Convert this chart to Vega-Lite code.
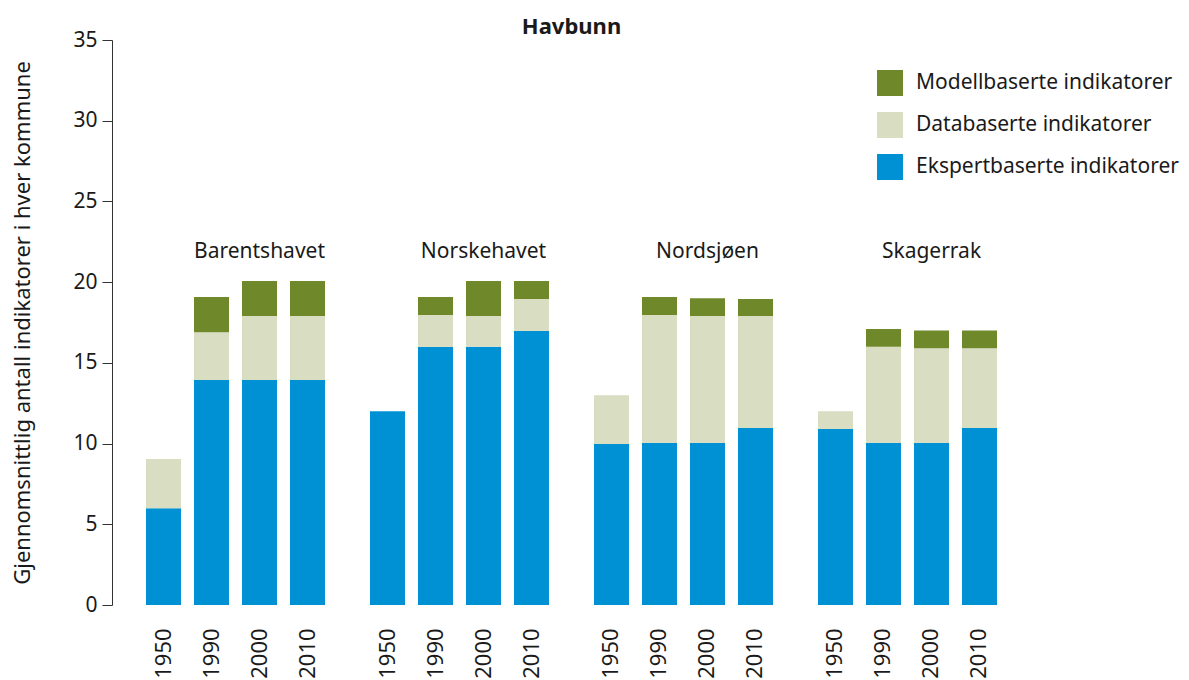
{
  "$schema": "https://vega.github.io/schema/vega-lite/v6.json",
  "autosize": {"type": "none"},
  "padding": {"left": 112, "top": 40, "right": 158, "bottom": 75},
  "width": 919,
  "height": 565,
  "background": "white",
  "config": {
    "font": "Noto Sans",
    "view": {"stroke": null},
    "text": {"font": "Noto Sans", "color": "#1a1a1a"}
  },
  "title": {
    "text": "Havbunn",
    "fontSize": 22,
    "fontWeight": "bold",
    "color": "#1a1a1a",
    "anchor": "middle",
    "offset": -10
  },
  "datasets": {
    "types": [
      {"type": "Ekspertbaserte indikatorer", "rank": 1},
      {"type": "Databaserte indikatorer", "rank": 2},
      {"type": "Modellbaserte indikatorer", "rank": 3}
    ],
    "bars": [
      {"region": "Barentshavet", "year": "1950", "type": "Ekspertbaserte indikatorer", "value": 6.0},
      {"region": "Barentshavet", "year": "1950", "type": "Databaserte indikatorer", "value": 3.05},
      {"region": "Barentshavet", "year": "1990", "type": "Ekspertbaserte indikatorer", "value": 13.94},
      {"region": "Barentshavet", "year": "1990", "type": "Databaserte indikatorer", "value": 2.96},
      {"region": "Barentshavet", "year": "1990", "type": "Modellbaserte indikatorer", "value": 2.18},
      {"region": "Barentshavet", "year": "2000", "type": "Ekspertbaserte indikatorer", "value": 13.94},
      {"region": "Barentshavet", "year": "2000", "type": "Databaserte indikatorer", "value": 3.96},
      {"region": "Barentshavet", "year": "2000", "type": "Modellbaserte indikatorer", "value": 2.17},
      {"region": "Barentshavet", "year": "2010", "type": "Ekspertbaserte indikatorer", "value": 13.94},
      {"region": "Barentshavet", "year": "2010", "type": "Databaserte indikatorer", "value": 3.96},
      {"region": "Barentshavet", "year": "2010", "type": "Modellbaserte indikatorer", "value": 2.17},
      {"region": "Norskehavet", "year": "1950", "type": "Ekspertbaserte indikatorer", "value": 12.0},
      {"region": "Norskehavet", "year": "1990", "type": "Ekspertbaserte indikatorer", "value": 15.98},
      {"region": "Norskehavet", "year": "1990", "type": "Databaserte indikatorer", "value": 1.99},
      {"region": "Norskehavet", "year": "1990", "type": "Modellbaserte indikatorer", "value": 1.11},
      {"region": "Norskehavet", "year": "2000", "type": "Ekspertbaserte indikatorer", "value": 16.0},
      {"region": "Norskehavet", "year": "2000", "type": "Databaserte indikatorer", "value": 1.9},
      {"region": "Norskehavet", "year": "2000", "type": "Modellbaserte indikatorer", "value": 2.17},
      {"region": "Norskehavet", "year": "2010", "type": "Ekspertbaserte indikatorer", "value": 16.98},
      {"region": "Norskehavet", "year": "2010", "type": "Databaserte indikatorer", "value": 1.98},
      {"region": "Norskehavet", "year": "2010", "type": "Modellbaserte indikatorer", "value": 1.11},
      {"region": "Nordsjøen", "year": "1950", "type": "Ekspertbaserte indikatorer", "value": 9.97},
      {"region": "Nordsjøen", "year": "1950", "type": "Databaserte indikatorer", "value": 3.03},
      {"region": "Nordsjøen", "year": "1990", "type": "Ekspertbaserte indikatorer", "value": 10.04},
      {"region": "Nordsjøen", "year": "1990", "type": "Databaserte indikatorer", "value": 7.93},
      {"region": "Nordsjøen", "year": "1990", "type": "Modellbaserte indikatorer", "value": 1.11},
      {"region": "Nordsjøen", "year": "2000", "type": "Ekspertbaserte indikatorer", "value": 10.04},
      {"region": "Nordsjøen", "year": "2000", "type": "Databaserte indikatorer", "value": 7.86},
      {"region": "Nordsjøen", "year": "2000", "type": "Modellbaserte indikatorer", "value": 1.1},
      {"region": "Nordsjøen", "year": "2010", "type": "Ekspertbaserte indikatorer", "value": 10.97},
      {"region": "Nordsjøen", "year": "2010", "type": "Databaserte indikatorer", "value": 6.93},
      {"region": "Nordsjøen", "year": "2010", "type": "Modellbaserte indikatorer", "value": 1.06},
      {"region": "Skagerrak", "year": "1950", "type": "Ekspertbaserte indikatorer", "value": 10.9},
      {"region": "Skagerrak", "year": "1950", "type": "Databaserte indikatorer", "value": 1.1},
      {"region": "Skagerrak", "year": "1990", "type": "Ekspertbaserte indikatorer", "value": 10.04},
      {"region": "Skagerrak", "year": "1990", "type": "Databaserte indikatorer", "value": 5.96},
      {"region": "Skagerrak", "year": "1990", "type": "Modellbaserte indikatorer", "value": 1.1},
      {"region": "Skagerrak", "year": "2000", "type": "Ekspertbaserte indikatorer", "value": 10.04},
      {"region": "Skagerrak", "year": "2000", "type": "Databaserte indikatorer", "value": 5.86},
      {"region": "Skagerrak", "year": "2000", "type": "Modellbaserte indikatorer", "value": 1.1},
      {"region": "Skagerrak", "year": "2010", "type": "Ekspertbaserte indikatorer", "value": 10.97},
      {"region": "Skagerrak", "year": "2010", "type": "Databaserte indikatorer", "value": 4.93},
      {"region": "Skagerrak", "year": "2010", "type": "Modellbaserte indikatorer", "value": 1.1}
    ],
    "years": [
      {"region": "Barentshavet", "year": "1950"}, {"region": "Barentshavet", "year": "1990"}, {"region": "Barentshavet", "year": "2000"}, {"region": "Barentshavet", "year": "2010"},
      {"region": "Norskehavet", "year": "1950"}, {"region": "Norskehavet", "year": "1990"}, {"region": "Norskehavet", "year": "2000"}, {"region": "Norskehavet", "year": "2010"},
      {"region": "Nordsjøen", "year": "1950"}, {"region": "Nordsjøen", "year": "1990"}, {"region": "Nordsjøen", "year": "2000"}, {"region": "Nordsjøen", "year": "2010"},
      {"region": "Skagerrak", "year": "1950"}, {"region": "Skagerrak", "year": "1990"}, {"region": "Skagerrak", "year": "2000"}, {"region": "Skagerrak", "year": "2010"}
    ],
    "regions": [
      {"region": "Barentshavet", "year": "2000"},
      {"region": "Norskehavet", "year": "2000"},
      {"region": "Nordsjøen", "year": "2000"},
      {"region": "Skagerrak", "year": "2000"}
    ]
  },
  "layer": [
    {
      "data": {"name": "bars"},
      "transform": [
        {"lookup": "type", "from": {"data": {"name": "types"}, "key": "type", "fields": ["rank"]}}
      ],
      "mark": {"type": "bar"},
      "encoding": {
        "x": {
          "field": "region", "type": "nominal",
          "sort": ["Barentshavet", "Norskehavet", "Nordsjøen", "Skagerrak"],
          "scale": {"paddingInner": 0.142857, "paddingOuter": 0.12277},
          "axis": null
        },
        "xOffset": {
          "field": "year", "type": "nominal",
          "sort": ["1950", "1990", "2000", "2010"],
          "scale": {"paddingInner": 0.2708, "paddingOuter": 0.1354}
        },
        "y": {
          "field": "value", "type": "quantitative", "stack": "zero",
          "scale": {"domain": [0, 35], "nice": false, "zero": true},
          "axis": {
            "title": "Gjennomsnittlig antall indikatorer i hver kommune",
            "values": [0, 5, 10, 15, 20, 25, 30, 35],
            "grid": false,
            "domainColor": "#333333",
            "tickColor": "#333333",
            "tickSize": 10,
            "labelFontSize": 21,
            "labelColor": "#1a1a1a",
            "labelPadding": 5,
            "titleFontSize": 22,
            "titleFontWeight": "normal",
            "titleColor": "#1a1a1a",
            "titlePadding": 38
          }
        },
        "order": {"field": "rank", "type": "quantitative", "sort": "ascending"},
        "color": {
          "field": "type", "type": "nominal",
          "scale": {
            "domain": ["Modellbaserte indikatorer", "Databaserte indikatorer", "Ekspertbaserte indikatorer"],
            "range": ["#6E882A", "#D9DEC2", "#0091D5"]
          },
          "legend": {
            "title": null,
            "orient": "none",
            "legendX": 765,
            "legendY": 30,
            "padding": 0,
            "symbolType": "square",
            "symbolSize": 676,
            "symbolStrokeWidth": 0,
            "symbolOpacity": 1,
            "labelFontSize": 21,
            "labelLimit": 0,
            "labelColor": "#1a1a1a",
            "labelOffset": 13,
            "labelBaseline": "middle",
            "rowPadding": 16
          }
        }
      }
    },
    {
      "data": {"name": "years"},
      "mark": {"type": "text", "angle": 270, "align": "right", "baseline": "middle", "fontSize": 22, "color": "#1a1a1a"},
      "encoding": {
        "x": {"field": "region", "type": "nominal", "sort": ["Barentshavet", "Norskehavet", "Nordsjøen", "Skagerrak"]},
        "xOffset": {"field": "year", "type": "nominal", "sort": ["1950", "1990", "2000", "2010"]},
        "y": {"datum": -1.45},
        "text": {"field": "year"}
      }
    },
    {
      "data": {"name": "regions"},
      "mark": {"type": "text", "align": "center", "baseline": "middle", "fontSize": 21, "color": "#1a1a1a"},
      "encoding": {
        "x": {"field": "region", "type": "nominal", "sort": ["Barentshavet", "Norskehavet", "Nordsjøen", "Skagerrak"]},
        "xOffset": {"field": "year", "type": "nominal", "sort": ["1950", "1990", "2000", "2010"]},
        "y": {"datum": 21.85},
        "text": {"field": "region"}
      }
    }
  ]
}
